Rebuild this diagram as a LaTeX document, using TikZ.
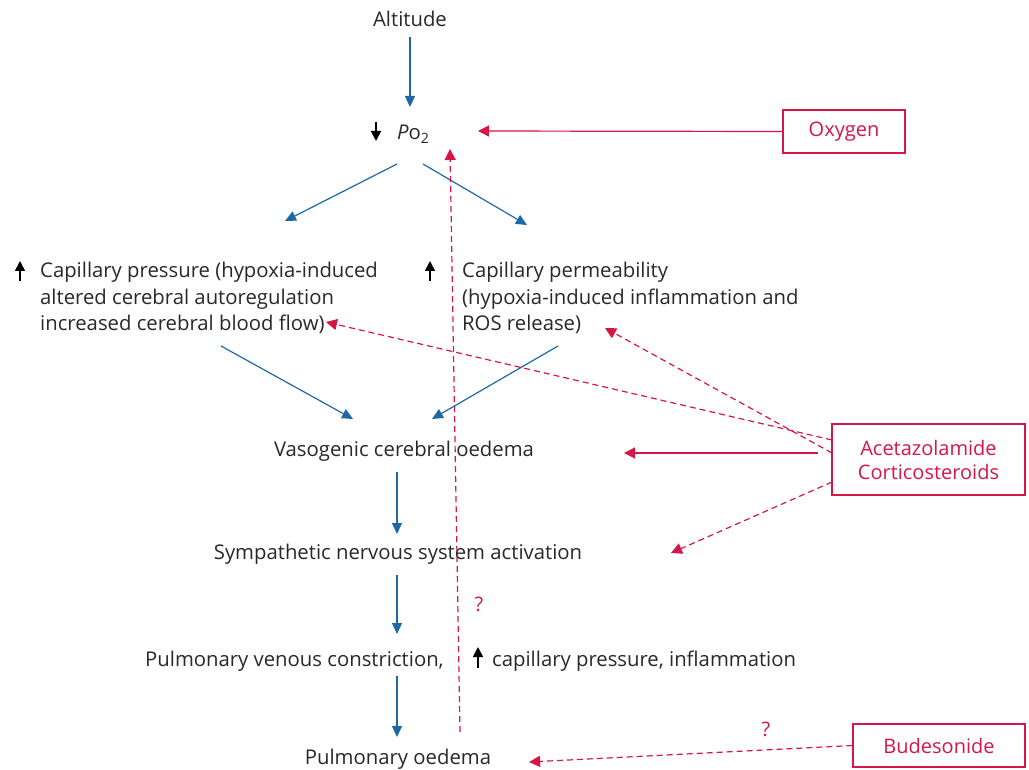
\documentclass[tikz,border=0pt]{standalone}
\usepackage{fontspec}
\setmainfont{Open Sans}
\usetikzlibrary{arrows.meta,calc}
\definecolor{cblue}{RGB}{30,105,165}
\definecolor{cred}{RGB}{214,22,72}
\definecolor{ctext}{RGB}{40,40,40}
\tikzset{
  txt/.style={font=\fontsize{20.3}{26.5}\selectfont, inner sep=0pt, text=ctext},
  redtxt/.style={font=\fontsize{20}{24}\selectfont, inner sep=0pt, text=cred},
  bluearr/.style={draw=cblue, line width=1.2pt, -{Triangle[length=11pt,width=10pt]}},
  redarr/.style={draw=cred, line width=1.2pt, -{Triangle[length=11pt,width=11pt]}},
  reddash/.style={redarr, dash pattern=on 6pt off 4pt},
  rbox/.style={draw=cred, line width=1.2pt, text=cred, font=\fontsize{20}{24}\selectfont, align=center, inner sep=0pt},
  blk/.style={draw=black, line width=1.6pt, -{Triangle[length=10pt,width=10pt]}}
}
\begin{document}
\begin{tikzpicture}[x=1pt,y=-1pt]
\useasboundingbox (0,0) rectangle (1029,770);
% texts
\node[txt, anchor=base] (alt) at (410,27) {Altitude};
\node[txt, anchor=base west] (po) at (397,140) {\textit{P}o\textsubscript{2}};
\node[txt, anchor=north west, align=left] (cp) at (40,262) {Capillary pressure (hypoxia-induced\\altered cerebral autoregulation\\increased cerebral blood flow)};
\node[txt, anchor=north west, align=left] (cperm) at (462,262) {Capillary permeability\\(hypoxia-induced inflammation and\\ROS release)};
\node[txt, anchor=base] (vas) at (404,456) {Vasogenic cerebral oedema};
\node[txt, anchor=base] (sym) at (398,559) {Sympathetic nervous system activation};
\node[txt, anchor=base west] (pvc) at (145,666) {Pulmonary venous constriction,};
\node[txt, anchor=base west] (cpi) at (492,666) {capillary pressure, inflammation};
\node[txt, anchor=base] (po2) at (398,764) {Pulmonary oedema};
\node[redtxt, anchor=base] (q1) at (479,611) {?};
\node[redtxt, anchor=base] (q2) at (766,736) {?};
% boxes
\node[rbox, minimum width=122pt, minimum height=43pt] (oxy) at (844,131.5) {Oxygen};
\node[rbox, minimum width=193pt, minimum height=71pt] (ac) at (928.5,459.5) {Acetazolamide\\Corticosteroids};
\node[rbox, minimum width=172pt, minimum height=43pt] (bud) at (939,745.5) {Budesonide};
% black small arrows
\coordinate (d1) at (376,122); \coordinate (d2) at (376,141);
\draw[blk] (d1) -- (d2);
\coordinate (u1) at (20,281); \coordinate (u2) at (20,261);
\draw[blk] (u1) -- (u2);
\coordinate (u3) at (430,281); \coordinate (u4) at (430,261);
\draw[blk] (u3) -- (u4);
\coordinate (u5) at (478,668); \coordinate (u6) at (478,647);
\draw[blk] (u5) -- (u6);
% blue arrows
\coordinate (b1) at (410,37); \coordinate (b2) at (410,107);
\draw[bluearr] (b1) -- (b2);
\coordinate (b3) at (397,164); \coordinate (b4) at (285,221);
\draw[bluearr] (b3) -- (b4);
\coordinate (b5) at (423,164); \coordinate (b6) at (527,225);
\draw[bluearr] (b5) -- (b6);
\coordinate (b7) at (221,346); \coordinate (b8) at (353,419);
\draw[bluearr] (b7) -- (b8);
\coordinate (b9) at (558,346); \coordinate (b10) at (432,419);
\draw[bluearr] (b9) -- (b10);
\coordinate (b11) at (397,472); \coordinate (b12) at (397,534);
\draw[bluearr] (b11) -- (b12);
\coordinate (b13) at (397,575); \coordinate (b14) at (397,634);
\draw[bluearr] (b13) -- (b14);
\coordinate (b15) at (397,676); \coordinate (b16) at (397,737);
\draw[bluearr] (b15) -- (b16);
% red arrows
\coordinate (r1) at (478,131);
\draw[redarr] (oxy.west) -- (r1);
\coordinate (r2) at (624,453); \coordinate (r0) at (818,453);
\draw[redarr] (r0) -- (r2);
\coordinate (s1) at (832,440); \coordinate (t1) at (326,322);
\draw[reddash] (s1) -- (t1);
\coordinate (s2) at (832,453); \coordinate (t2) at (605,328);
\draw[reddash] (s2) -- (t2);
\coordinate (s3) at (832,482); \coordinate (t3) at (671,553);
\draw[reddash] (s3) -- (t3);
\coordinate (s4) at (460,732); \coordinate (t4) at (450,149);
\draw[reddash] (s4) -- (t4);
\coordinate (t5) at (529,762);
\draw[reddash] (bud.west) -- (t5);
\end{tikzpicture}
\end{document}
